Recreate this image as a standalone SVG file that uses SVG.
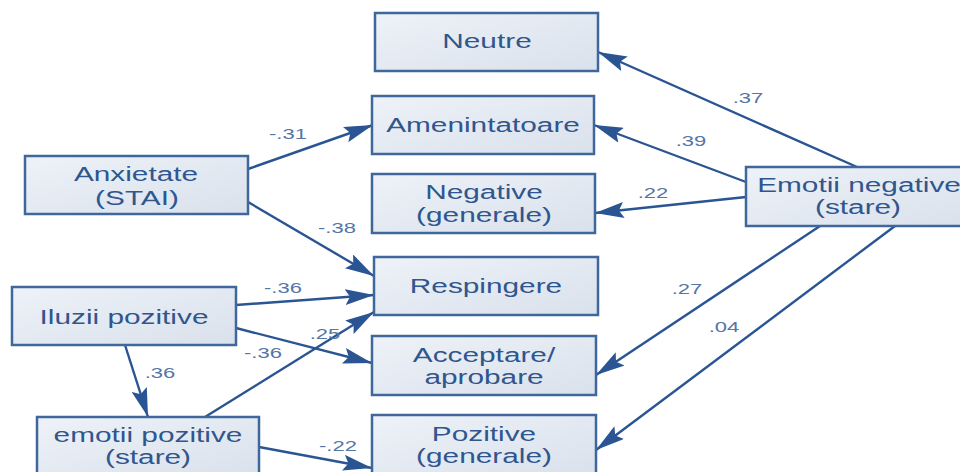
<svg xmlns="http://www.w3.org/2000/svg" width="960" height="472" viewBox="0 0 960 472">
<defs>
<linearGradient id="bg" x1="0" y1="0" x2="1" y2="1">
<stop offset="0" stop-color="#eef2f8"/>
<stop offset="1" stop-color="#d9e1ec"/>
</linearGradient>
<marker id="ah" markerUnits="userSpaceOnUse" markerWidth="29" markerHeight="16" viewBox="0 0 29 16" refX="29" refY="8" orient="auto">
<path d="M0,0 L29,8 L0,16 L5,8 z" fill="#2a5592"/>
</marker>
<style>
.box{fill:url(#bg);stroke:#3f679c;stroke-width:2.5}
.t{font-family:"Liberation Sans",Arial,sans-serif;font-size:21px;fill:#30568e;text-anchor:middle}
.l{font-family:"Liberation Sans",Arial,sans-serif;font-size:15.5px;fill:#5575a5;text-anchor:middle}
.c{stroke:#2a5592;stroke-width:2.4;fill:none;marker-end:url(#ah)}
</style>
</defs>
<rect width="960" height="472" fill="#ffffff"/>
<g id="connectors">
<line class="c" x1="248" y1="169" x2="373" y2="125"/>
<line class="c" x1="248" y1="202" x2="374" y2="276"/>
<line class="c" x1="236" y1="305" x2="374" y2="295"/>
<line class="c" x1="236" y1="328" x2="372" y2="363"/>
<line class="c" x1="125" y1="345" x2="148" y2="417"/>
<line class="c" x1="205" y1="417" x2="374" y2="312"/>
<line class="c" x1="259" y1="447" x2="372" y2="468"/>
<line class="c" x1="857" y1="167" x2="598" y2="52"/>
<line class="c" x1="746" y1="182" x2="594" y2="125"/>
<line class="c" x1="746" y1="197" x2="595" y2="213"/>
<line class="c" x1="820" y1="226" x2="596" y2="375"/>
<line class="c" x1="895" y1="226" x2="596" y2="450"/>
</g>
<g id="labels">
<text class="l" transform="matrix(1.42 0 0 1 288 139)">-.31</text>
<text class="l" transform="matrix(1.42 0 0 1 337 233)">-.38</text>
<text class="l" transform="matrix(1.42 0 0 1 283 293)">-.36</text>
<text class="l" transform="matrix(1.42 0 0 1 325 339)">.25</text>
<text class="l" transform="matrix(1.42 0 0 1 263 358)">-.36</text>
<text class="l" transform="matrix(1.42 0 0 1 160 378)">.36</text>
<text class="l" transform="matrix(1.42 0 0 1 338 451)">-.22</text>
<text class="l" transform="matrix(1.42 0 0 1 748 103)">.37</text>
<text class="l" transform="matrix(1.42 0 0 1 691 146)">.39</text>
<text class="l" transform="matrix(1.42 0 0 1 653 198)">.22</text>
<text class="l" transform="matrix(1.42 0 0 1 687 294)">.27</text>
<text class="l" transform="matrix(1.42 0 0 1 724 332)">.04</text>
</g>
<g id="n-neutre">
<rect class="box" x="375" y="13" width="223" height="58"/>
<text class="t" transform="matrix(1.42 0 0 1 487 48)">Neutre</text>
</g>
<g id="n-amenintatoare">
<rect class="box" x="372" y="96" width="222" height="58"/>
<text class="t" transform="matrix(1.42 0 0 1 483 132)">Amenintatoare</text>
</g>
<g id="n-negative">
<rect class="box" x="372" y="174" width="223" height="59"/>
<text class="t" transform="matrix(1.42 0 0 1 484 199)">Negative</text>
<text class="t" transform="matrix(1.42 0 0 1 484 222)">(generale)</text>
</g>
<g id="n-respingere">
<rect class="box" x="374" y="257" width="224" height="58"/>
<text class="t" transform="matrix(1.42 0 0 1 486 293)">Respingere</text>
</g>
<g id="n-acceptare">
<rect class="box" x="372" y="336" width="224" height="59"/>
<text class="t" transform="matrix(1.42 0 0 1 484 362)">Acceptare/</text>
<text class="t" transform="matrix(1.42 0 0 1 484 384)">aprobare</text>
</g>
<g id="n-pozitive">
<rect class="box" x="372" y="415" width="224" height="60"/>
<text class="t" transform="matrix(1.42 0 0 1 484 441)">Pozitive</text>
<text class="t" transform="matrix(1.42 0 0 1 484 463)">(generale)</text>
</g>
<g id="n-anxietate">
<rect class="box" x="25" y="156" width="223" height="58"/>
<text class="t" transform="matrix(1.42 0 0 1 136 181)">Anxietate</text>
<text class="t" transform="matrix(1.42 0 0 1 137 205)">(STAI)</text>
</g>
<g id="n-iluzii">
<rect class="box" x="12" y="287" width="224" height="58"/>
<text class="t" transform="matrix(1.42 0 0 1 124 324)">Iluzii pozitive</text>
</g>
<g id="n-emotii-pozitive">
<rect class="box" x="37" y="417" width="222" height="60"/>
<text class="t" transform="matrix(1.42 0 0 1 148 442)">emotii pozitive</text>
<text class="t" transform="matrix(1.42 0 0 1 148 464)">(stare)</text>
</g>
<g id="n-emotii-negative">
<rect class="box" x="746" y="167" width="222" height="59"/>
<text class="t" transform="matrix(1.42 0 0 1 859 192)">Emotii negative</text>
<text class="t" transform="matrix(1.42 0 0 1 858 214)">(stare)</text>
</g>
</svg>
